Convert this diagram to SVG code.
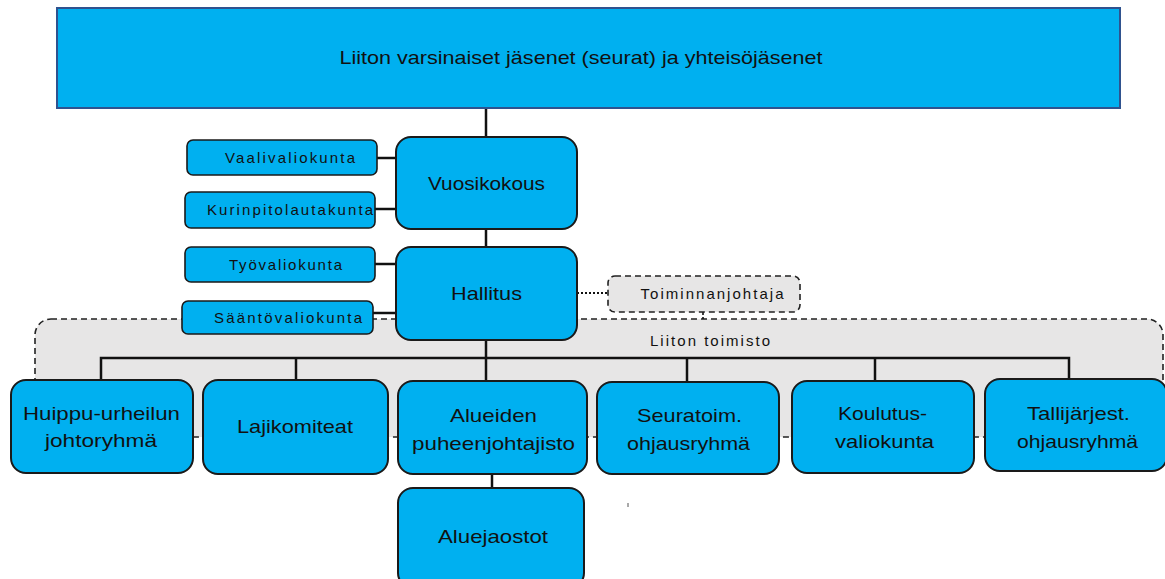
<svg xmlns="http://www.w3.org/2000/svg" width="1165" height="579" viewBox="0 0 1165 579">
<style>
.box{fill:#00B0F0;stroke:#1a1a1a;stroke-width:2}
.sm{fill:#00B0F0;stroke:#1a1a1a;stroke-width:1.6}
.t{font-family:"Liberation Sans",Arial,sans-serif;fill:#111;text-anchor:middle}
.big{font-size:19px}
.small{font-size:15px}
.ln{stroke:#111;stroke-width:2.5;fill:none}
</style>
<rect width="1165" height="579" fill="#fff"/>
<g id="toimisto">
<rect x="35" y="319" width="1128" height="118" rx="16" fill="#E7E6E6" stroke="#222" stroke-width="1.6" stroke-dasharray="6,4"/>
<text class="t small" x="710" y="346" textLength="120" lengthAdjust="spacing">Liiton toimisto</text>
</g>
<g id="connectors">
<line class="ln" x1="486" y1="108" x2="486" y2="137"/>
<line class="ln" x1="486" y1="229" x2="486" y2="247"/>
<line class="ln" x1="377" y1="158" x2="396" y2="158"/>
<line class="ln" x1="375" y1="209" x2="396" y2="209"/>
<line class="ln" x1="375" y1="264" x2="396" y2="264"/>
<line class="ln" x1="373" y1="313" x2="396" y2="313"/>
<line x1="577" y1="293" x2="608" y2="293" stroke="#111" stroke-width="2" stroke-dasharray="2,2"/>
<line x1="703" y1="312" x2="703" y2="319" stroke="#111" stroke-width="1.6" stroke-dasharray="3,2"/>
<line class="ln" x1="486" y1="340" x2="486" y2="358"/>
<polyline class="ln" points="101,380 101,358 1069,358 1069,379"/>
<line class="ln" x1="296" y1="358" x2="296" y2="380"/>
<line class="ln" x1="486" y1="358" x2="486" y2="381"/>
<line class="ln" x1="687" y1="358" x2="687" y2="382"/>
<line class="ln" x1="875" y1="358" x2="875" y2="381"/>
<line class="ln" x1="492" y1="474" x2="492" y2="488"/>
<line x1="628" y1="503" x2="628" y2="507" stroke="#555" stroke-width="1"/>
</g>
<g id="jasenet">
<rect x="57" y="8" width="1063" height="100" fill="#00B0F0" stroke="#2F528F" stroke-width="2"/>
<text class="t" style="font-size:19px" x="581" y="64" textLength="483" lengthAdjust="spacingAndGlyphs">Liiton varsinaiset jäsenet (seurat) ja yhteisöjäsenet</text>
</g>
<g id="vaalivaliokunta">
<rect class="sm" x="187" y="140" width="190" height="35" rx="6"/>
<text class="t small" x="290" y="163" textLength="130" lengthAdjust="spacing">Vaalivaliokunta</text>
</g>
<g id="kurinpitolautakunta">
<rect class="sm" x="185" y="192" width="190" height="36" rx="6"/>
<text class="t small" x="290" y="215" textLength="166" lengthAdjust="spacing">Kurinpitolautakunta</text>
</g>
<g id="tyovaliokunta">
<rect class="sm" x="185" y="247" width="190" height="35" rx="6"/>
<text class="t small" x="285.5" y="270" textLength="113" lengthAdjust="spacing">Työvaliokunta</text>
</g>
<g id="saantovaliokunta">
<rect class="sm" x="182" y="301" width="191" height="33" rx="6"/>
<text class="t small" x="288" y="323" textLength="148" lengthAdjust="spacing">Sääntövaliokunta</text>
</g>
<g id="vuosikokous">
<rect class="box" x="396" y="137" width="181" height="92" rx="15"/>
<text class="t big" x="486.5" y="190" textLength="117" lengthAdjust="spacingAndGlyphs">Vuosikokous</text>
</g>
<g id="hallitus">
<rect class="box" x="396" y="247" width="181" height="93" rx="15"/>
<text class="t big" x="486.5" y="300" textLength="71" lengthAdjust="spacingAndGlyphs">Hallitus</text>
</g>
<g id="toiminnanjohtaja">
<rect x="608" y="276" width="192" height="36" rx="7" fill="#E7E6E6" stroke="#222" stroke-width="1.6" stroke-dasharray="6,4"/>
<text class="t small" x="712" y="299" textLength="143" lengthAdjust="spacing">Toiminnanjohtaja</text>
</g>
<g id="huippu">
<rect class="box" x="11" y="380" width="182" height="93" rx="15"/>
<text class="t big" x="101.5" y="420" textLength="157" lengthAdjust="spacingAndGlyphs">Huippu-urheilun</text>
<text class="t big" x="101" y="447" textLength="112" lengthAdjust="spacingAndGlyphs">johtoryhmä</text>
</g>
<g id="lajikomiteat">
<rect class="box" x="203" y="380" width="185" height="94" rx="15"/>
<text class="t big" x="295" y="433" textLength="116" lengthAdjust="spacingAndGlyphs">Lajikomiteat</text>
</g>
<g id="alueiden">
<rect class="box" x="398" y="381" width="189" height="93" rx="15"/>
<text class="t big" x="493.5" y="422" textLength="87" lengthAdjust="spacingAndGlyphs">Alueiden</text>
<text class="t big" x="493.5" y="450" textLength="163" lengthAdjust="spacingAndGlyphs">puheenjohtajisto</text>
</g>
<g id="aluejaostot">
<rect class="box" x="398" y="488" width="186" height="100" rx="15"/>
<text class="t big" x="493" y="543" textLength="110" lengthAdjust="spacingAndGlyphs">Aluejaostot</text>
</g>
<g id="seuratoim">
<rect class="box" x="597" y="382" width="182" height="92" rx="15"/>
<text class="t big" x="689.5" y="422" textLength="105" lengthAdjust="spacingAndGlyphs">Seuratoim.</text>
<text class="t big" x="688.5" y="450" textLength="123" lengthAdjust="spacingAndGlyphs">ohjausryhmä</text>
</g>
<g id="koulutus">
<rect class="box" x="792" y="381" width="182" height="92" rx="15"/>
<text class="t big" x="882.5" y="420" textLength="89" lengthAdjust="spacingAndGlyphs">Koulutus-</text>
<text class="t big" x="884.5" y="448" textLength="99" lengthAdjust="spacingAndGlyphs">valiokunta</text>
</g>
<g id="tallijarjest">
<rect class="box" x="985" y="379" width="182" height="92" rx="15"/>
<text class="t big" x="1078.5" y="420" textLength="103" lengthAdjust="spacingAndGlyphs">Tallijärjest.</text>
<text class="t big" x="1077.5" y="448" textLength="121" lengthAdjust="spacingAndGlyphs">ohjausryhmä</text>
</g>
</svg>
